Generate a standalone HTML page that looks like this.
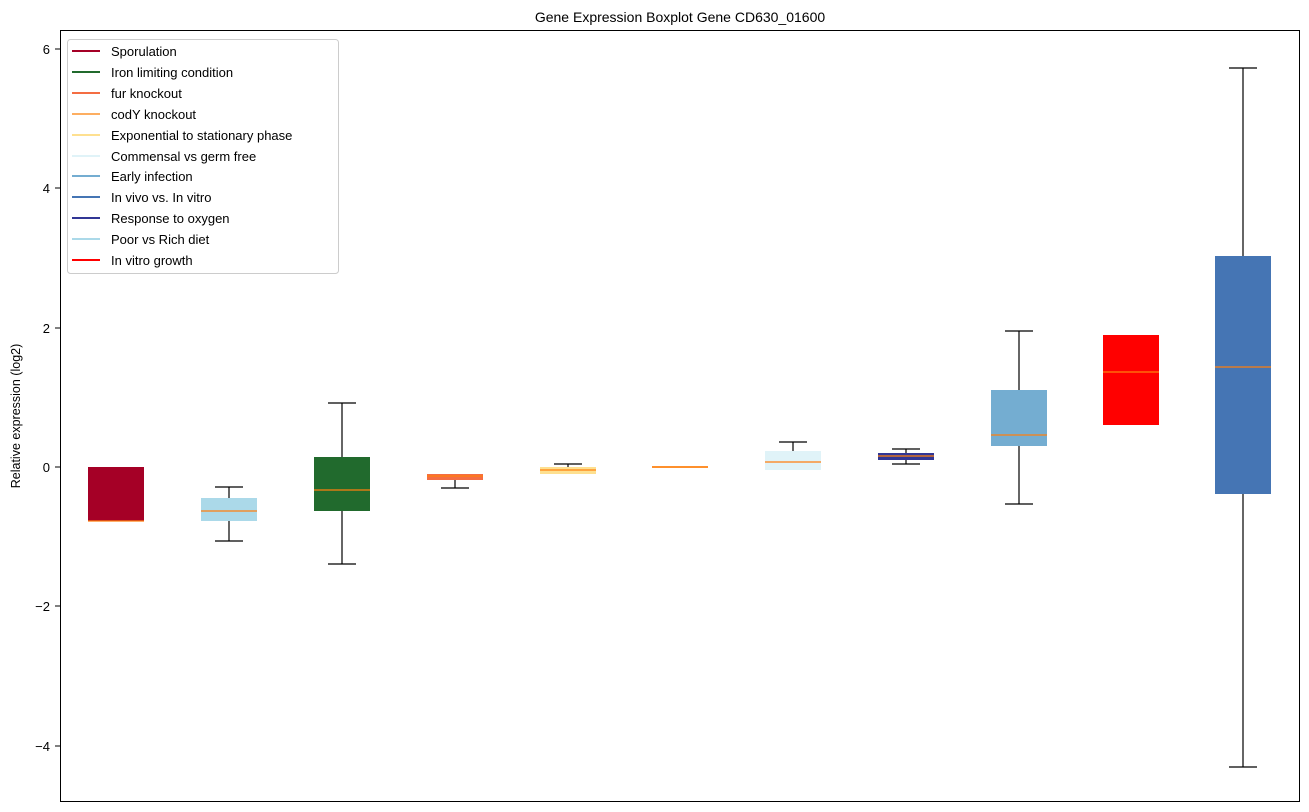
<!DOCTYPE html>
<html><head><style>body{margin:0;background:#fff}svg{display:block}text{font-family:"Liberation Sans","DejaVu Sans",sans-serif}</style></head><body>
<svg width="1309" height="812" xmlns="http://www.w3.org/2000/svg">
<rect width="1309" height="812" fill="#fff"/>
<text x="680" y="22" font-size="14" text-anchor="middle">Gene Expression Boxplot Gene CD630_01600</text>
<text transform="translate(20,416) rotate(-90)" font-size="12.5" text-anchor="middle">Relative expression (log2)</text>
<g font-size="13" text-anchor="end">
<line x1="55" y1="49" x2="60" y2="49" stroke="#000"/><text x="50" y="54">6</text>
<line x1="55" y1="188" x2="60" y2="188" stroke="#000"/><text x="50" y="193">4</text>
<line x1="55" y1="328" x2="60" y2="328" stroke="#000"/><text x="50" y="333">2</text>
<line x1="55" y1="467" x2="60" y2="467" stroke="#000"/><text x="50" y="472">0</text>
<line x1="55" y1="606" x2="60" y2="606" stroke="#000"/><text x="50" y="611">−2</text>
<line x1="55" y1="746" x2="60" y2="746" stroke="#000"/><text x="50" y="751">−4</text>
</g>
<g stroke="#000" stroke-width="1.2">
<line x1="229" y1="487" x2="229" y2="498"/><line x1="229" y1="521" x2="229" y2="541"/><line x1="215" y1="487" x2="243" y2="487"/><line x1="215" y1="541" x2="243" y2="541"/>
<line x1="342" y1="403" x2="342" y2="457"/><line x1="342" y1="511" x2="342" y2="564"/><line x1="328" y1="403" x2="356" y2="403"/><line x1="328" y1="564" x2="356" y2="564"/>
<line x1="455" y1="480" x2="455" y2="488"/><line x1="441" y1="488" x2="469" y2="488"/>
<line x1="568" y1="464" x2="568" y2="467"/><line x1="554" y1="464" x2="582" y2="464"/>
<line x1="793" y1="442" x2="793" y2="451"/><line x1="779" y1="442" x2="807" y2="442"/>
<line x1="906" y1="449" x2="906" y2="464"/><line x1="892" y1="449" x2="920" y2="449"/><line x1="892" y1="464" x2="920" y2="464"/>
<line x1="1019" y1="331" x2="1019" y2="390"/><line x1="1019" y1="446" x2="1019" y2="504"/><line x1="1005" y1="331" x2="1033" y2="331"/><line x1="1005" y1="504" x2="1033" y2="504"/>
<line x1="1243" y1="68" x2="1243" y2="256"/><line x1="1243" y1="494" x2="1243" y2="767"/><line x1="1229" y1="68" x2="1257" y2="68"/><line x1="1229" y1="767" x2="1257" y2="767"/>
</g>
<g>
<rect x="88" y="467" width="56" height="54" fill="#a50026"/>
<rect x="201" y="498" width="56" height="23" fill="#abd9e9"/>
<rect x="314" y="457" width="56" height="54" fill="#216a2d"/>
<rect x="427" y="474" width="56" height="6" fill="#f46d43"/>
<rect x="540" y="467" width="56" height="7" fill="#fee090"/>
<rect x="652" y="466" width="56" height="2" fill="#fdae61"/>
<rect x="765" y="451" width="56" height="19" fill="#e0f3f8"/>
<rect x="878" y="453" width="56" height="7" fill="#313695"/>
<rect x="991" y="390" width="56" height="56" fill="#74add1"/>
<rect x="1103" y="335" width="56" height="90" fill="#ff0000"/>
<rect x="1215" y="256" width="56" height="238" fill="#4575b4"/>
</g>
<g stroke="#ff7f0e" stroke-width="1.2">
<line x1="88" y1="521" x2="144" y2="521"/><line x1="201" y1="511" x2="257" y2="511"/><line x1="314" y1="490" x2="370" y2="490"/>
<line x1="427" y1="476" x2="483" y2="476"/><line x1="540" y1="470" x2="596" y2="470"/><line x1="652" y1="467" x2="708" y2="467"/>
<line x1="765" y1="462" x2="821" y2="462"/><line x1="878" y1="456" x2="934" y2="456"/><line x1="991" y1="435" x2="1047" y2="435"/>
<line x1="1103" y1="372" x2="1159" y2="372"/><line x1="1215" y1="367" x2="1271" y2="367"/>
</g>
<rect x="60.5" y="30.5" width="1239" height="771" fill="none" stroke="#000"/>
<rect x="67.5" y="39.5" width="271" height="234" rx="3" fill="#fff" fill-opacity="0.8" stroke="#ccc"/>
<g font-size="13" stroke-width="2">
<line x1="72" y1="51" x2="100" y2="51" stroke="#a50026"/><text x="111" y="56">Sporulation</text>
<line x1="72" y1="72" x2="100" y2="72" stroke="#216a2d"/><text x="111" y="77">Iron limiting condition</text>
<line x1="72" y1="93" x2="100" y2="93" stroke="#f46d43"/><text x="111" y="98">fur knockout</text>
<line x1="72" y1="114" x2="100" y2="114" stroke="#fdae61"/><text x="111" y="119">codY knockout</text>
<line x1="72" y1="135" x2="100" y2="135" stroke="#fee090"/><text x="111" y="140">Exponential to stationary phase</text>
<line x1="72" y1="156" x2="100" y2="156" stroke="#e0f3f8"/><text x="111" y="161">Commensal vs germ free</text>
<line x1="72" y1="176" x2="100" y2="176" stroke="#74add1"/><text x="111" y="181">Early infection</text>
<line x1="72" y1="197" x2="100" y2="197" stroke="#4575b4"/><text x="111" y="202">In vivo vs. In vitro</text>
<line x1="72" y1="218" x2="100" y2="218" stroke="#313695"/><text x="111" y="223">Response to oxygen</text>
<line x1="72" y1="239" x2="100" y2="239" stroke="#abd9e9"/><text x="111" y="244">Poor vs Rich diet</text>
<line x1="72" y1="260" x2="100" y2="260" stroke="#ff0000"/><text x="111" y="265">In vitro growth</text>
</g>
</svg>
</body></html>
